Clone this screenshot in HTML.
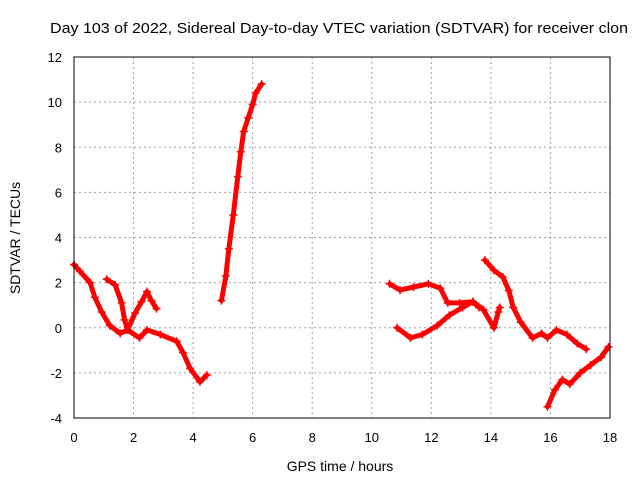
<!DOCTYPE html>
<html><head><meta charset="utf-8">
<style>
html,body{margin:0;padding:0;background:#fff;}
svg{display:block;font-family:"Liberation Sans",sans-serif;}
</style></head>
<body>
<svg id="chart" width="640" height="480" viewBox="0 0 640 480" xmlns="http://www.w3.org/2000/svg">
<rect width="640" height="480" fill="#fff"/>
<text x="50" y="33" font-size="15" textLength="578" lengthAdjust="spacingAndGlyphs">Day 103 of 2022, Sidereal Day-to-day VTEC variation (SDTVAR) for receiver clon</text>
<g id="grid"></g>
<g id="series"></g>
<rect x="74" y="57" width="536" height="361" fill="none" stroke="#000" stroke-width="1"/>
<g id="ticks"></g>
<text x="340" y="471" font-size="14" text-anchor="middle">GPS time / hours</text>
<text x="20" y="238" font-size="14" text-anchor="middle" transform="rotate(-90 20 238)">SDTVAR / TECUs</text>
</svg>
<script>
const xTicks = [0,2,4,6,8,10,12,14,16,18];
const yTicks = [-4,-2,0,2,4,6,8,10,12];
const segA = [[0,2.8],[0.2,2.5],[0.54,2.0],[0.7,1.35],[0.93,0.7],[1.2,0.1],[1.55,-0.25],[1.8,-0.1],[2.2,-0.45],[2.45,-0.1],[2.9,-0.3],[3.45,-0.6],[3.66,-1.1],[3.9,-1.8],[4.23,-2.4],[4.46,-2.1]];
const segB = [[1.1,2.15],[1.38,1.9],[1.6,1.1],[1.7,0.35],[1.8,-0.1],[2.05,0.65],[2.27,1.15],[2.45,1.6],[2.6,1.2],[2.77,0.85]];
const segC = [[4.95,1.2],[5.1,2.3],[5.2,3.5],[5.35,5.0],[5.5,6.7],[5.6,7.8],[5.7,8.7],[5.85,9.3],[6.0,9.9],[6.1,10.4],[6.3,10.8]];
const segD = [[10.6,1.95],[10.95,1.67],[11.4,1.8],[11.9,1.95],[12.3,1.75],[12.55,1.1],[12.95,1.1],[13.4,1.15],[13.75,0.8],[14.1,0.0],[14.25,0.7],[14.3,0.9]];
const segE = [[10.85,0.0],[11.3,-0.45],[11.7,-0.3],[12.2,0.1],[12.6,0.55],[13.05,0.9],[13.4,1.15],[13.6,0.9]];
const segF = [[13.8,3.0],[14.1,2.55],[14.4,2.25],[14.6,1.65],[14.75,0.9],[15.0,0.25],[15.4,-0.45],[15.7,-0.25],[15.9,-0.45],[16.2,-0.1],[16.55,-0.3],[16.9,-0.7],[17.2,-0.95]];
const segG = [[15.9,-3.5],[16.15,-2.75],[16.4,-2.3],[16.65,-2.5],[17.0,-2.0],[17.35,-1.65],[17.7,-1.3],[17.95,-0.85]];
const segments = [segA, segB, segC, segD, segE, segF, segG];

const X0=74, X1=610, Y0=418, Y1=57;
const xs = h => X0 + (h-0)/(18-0)*(X1-X0);
const ys = v => Y0 - (v-(-4))/(12-(-4))*(Y0-Y1);
const NS="http://www.w3.org/2000/svg";
const grid=document.getElementById('grid'), ticks=document.getElementById('ticks'), ser=document.getElementById('series');
function mk(tag, attrs, parent){const e=document.createElementNS(NS,tag);for(const k in attrs)e.setAttribute(k,attrs[k]);parent.appendChild(e);return e;}

xTicks.forEach(t=>{
  const x=xs(t);
  if(t>0&&t<18){
    const g=mk('line',{x1:x,y1:Y1,x2:x,y2:Y0,stroke:'#a0a0a0','stroke-dasharray':'2,3','stroke-width':1},grid);
    
    
  }
  const l=mk('text',{x:x,y:442,'font-size':13,'text-anchor':'middle'},ticks);
  l.textContent=t;
  
  
});
yTicks.forEach(t=>{
  const y=ys(t);
  if(t>-4&&t<12){
    const g=mk('line',{x1:X0,y1:y,x2:X1,y2:y,stroke:'#a0a0a0','stroke-dasharray':'2,3','stroke-width':1},grid);
    
    
  }
  const l=mk('text',{x:62,y:y+5,'font-size':13,'text-anchor':'end'},ticks);
  l.textContent=t;
  
  
});
segments.forEach((seg,i)=>{
  const pts=seg.map(p=>xs(p[0]).toFixed(1)+','+ys(p[1]).toFixed(1)).join(' ');
  const pl=mk('polyline',{points:pts,fill:'none',stroke:'#ff0000','stroke-width':5,'stroke-linejoin':'round','stroke-linecap':'round'},ser);
  
  
  seg.forEach(p=>{
    const x=xs(p[0]), y=ys(p[1]);
    const m=mk('path',{d:`M${x-4},${y}H${x+4}M${x},${y-4}V${y+4}`,stroke:'#ff0000','stroke-width':1.5},ser);
    
    
  });
});
</script>
</body></html>
